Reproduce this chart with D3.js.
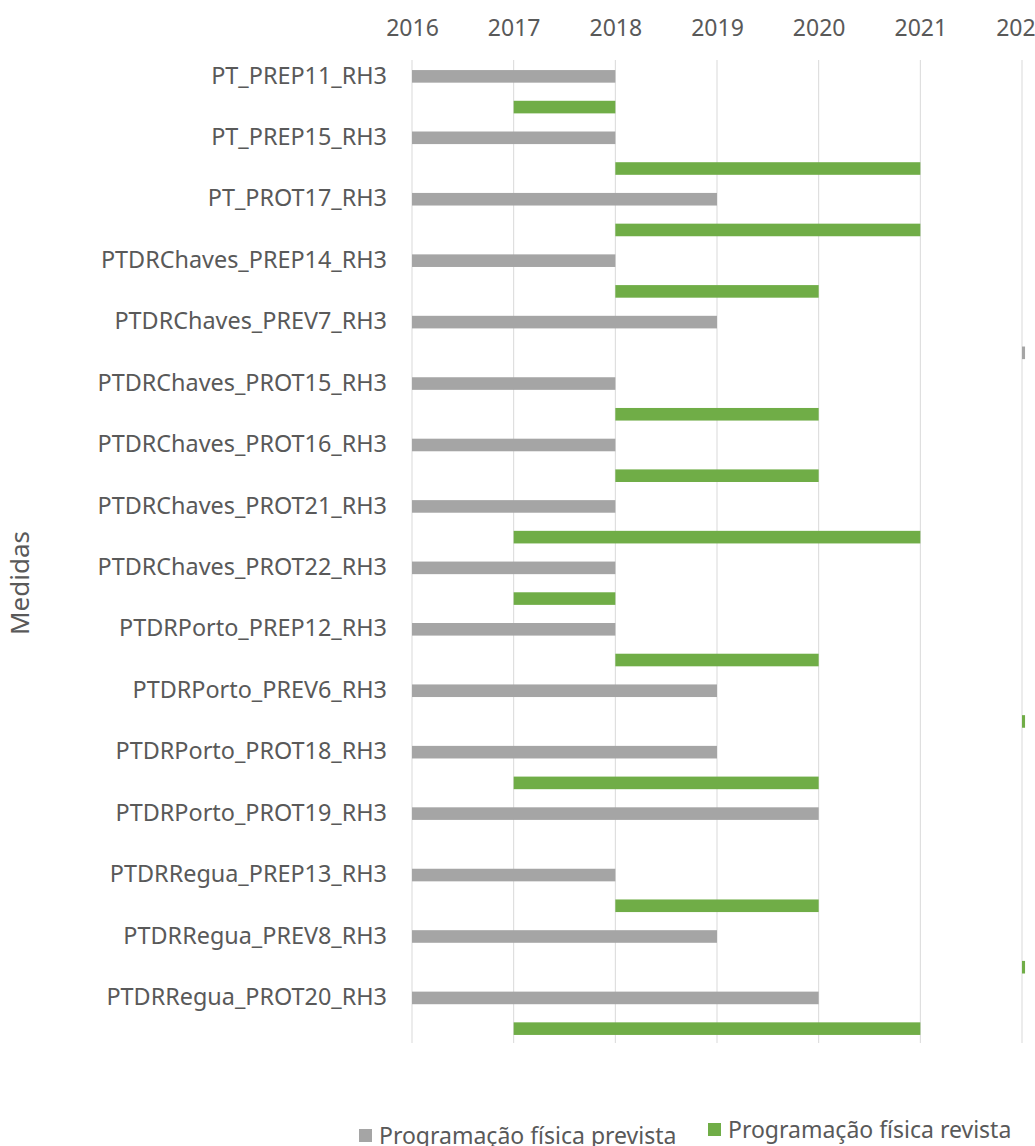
<!DOCTYPE html>
<html>
<head>
<meta charset="utf-8">
<script src="https://cdn.jsdelivr.net/npm/d3@7"></script>
<style>
  body { margin: 0; background: #fff; }
  svg { display: block; font-family: "Noto Sans", "Open Sans", sans-serif; }
</style>
</head>
<body>
<svg id="chart" width="1035" height="1146"></svg>
<script>
// categories (top to bottom)
const categorias = [
  "PT_PREP11_RH3", "PT_PREP15_RH3", "PT_PROT17_RH3",
  "PTDRChaves_PREP14_RH3", "PTDRChaves_PREV7_RH3", "PTDRChaves_PROT15_RH3",
  "PTDRChaves_PROT16_RH3", "PTDRChaves_PROT21_RH3", "PTDRChaves_PROT22_RH3",
  "PTDRPorto_PREP12_RH3", "PTDRPorto_PREV6_RH3", "PTDRPorto_PROT18_RH3",
  "PTDRPorto_PROT19_RH3", "PTDRRegua_PREP13_RH3", "PTDRRegua_PREV8_RH3",
  "PTDRRegua_PROT20_RH3"
];

// Programação física prevista (start / end year)
const previstaInicio = [2016, 2016, 2016, 2016, 2016, 2016, 2016, 2016, 2016, 2016, 2016, 2016, 2016, 2016, 2016, 2016];
const previstaFim    = [2018, 2018, 2019, 2018, 2019, 2018, 2018, 2018, 2018, 2018, 2019, 2019, 2020, 2018, 2019, 2020];

// Programação física revista (start / end year), null = no bar
const revistaInicio = [2017, 2018, 2018, 2018, 2022, 2018, 2018, 2017, 2017, 2018, 2022, 2017, null, 2018, 2022, 2017];
const revistaFim    = [2018, 2021, 2021, 2020, 2022.03, 2020, 2020, 2021, 2018, 2020, 2022.03, 2020, null, 2020, 2022.03, 2021];

const anos = [2016, 2017, 2018, 2019, 2020, 2021, 2022];

const series = ["Programação física prevista", "Programação física revista"];
const cores = ["#a5a5a5", "#70ad47"];
// in the source the revised mark of this row is drawn grey
const marcaCinzenta = new Set(["PTDRChaves_PREV7_RH3"]);

const svg = d3.select("#chart");
const margin = { top: 60, left: 412, right: 13, bottom: 103 };
const W = +svg.attr("width"), H = +svg.attr("height");
const txt = "#595959";

const x = d3.scaleLinear()
  .domain([d3.min(anos), d3.max(anos)])
  .range([margin.left, W - margin.right]);

const y = d3.scaleBand()
  .domain(categorias)
  .range([margin.top, H - margin.bottom])
  .paddingInner(0).paddingOuter(0);

const sub = d3.scaleBand()
  .domain([0, 1])
  .range([0, y.bandwidth()])
  .paddingInner(0.59).paddingOuter(0.295);

// gridlines
svg.append("g")
  .selectAll("line")
  .data(anos)
  .join("line")
    .attr("x1", d => x(d)).attr("x2", d => x(d))
    .attr("y1", margin.top).attr("y2", H - margin.bottom)
    .attr("stroke", "#d9d9d9").attr("stroke-width", 1);

// top axis
const ax = svg.append("g")
  .attr("transform", `translate(0,${margin.top - 24})`)
  .call(d3.axisTop(x).tickValues(anos).tickFormat(d3.format("d")).tickSize(0).tickPadding(0));
ax.select(".domain").remove();
ax.selectAll("text")
  .attr("fill", txt)
  .style("font-size", "23px")
  .style("font-family", "'Noto Sans', sans-serif");

const rows = categorias.map((c, i) => ({
  c, i,
  p: [previstaInicio[i], previstaFim[i]],
  r: revistaInicio[i] == null ? null : [revistaInicio[i], revistaFim[i]]
}));

// prevista bars
svg.append("g")
  .selectAll("rect")
  .data(rows)
  .join("rect")
    .attr("x", d => x(d.p[0]))
    .attr("width", d => x(d.p[1]) - x(d.p[0]))
    .attr("y", d => y(d.c) + sub(0) + 1)
    .attr("height", sub.bandwidth())
    .attr("fill", cores[0]);

// revista bars
svg.append("g")
  .selectAll("rect")
  .data(rows.filter(d => d.r))
  .join("rect")
    .attr("x", d => x(d.r[0]))
    .attr("width", d => x(d.r[1]) - x(d.r[0]))
    .attr("y", d => y(d.c) + sub(1) + 1)
    .attr("height", sub.bandwidth())
    .attr("fill", d => marcaCinzenta.has(d.c) ? cores[0] : cores[1]);

// category labels
svg.append("g")
  .selectAll("text")
  .data(categorias)
  .join("text")
    .attr("x", margin.left - 25)
    .attr("y", d => y(d) + sub(0) + sub.bandwidth() / 2)
    .attr("dy", "0.35em")
    .attr("text-anchor", "end")
    .attr("fill", txt)
    .style("font-size", "23.4px")
    .text(d => d);

// axis title
svg.append("text")
  .attr("transform", `translate(29,583) rotate(-90)`)
  .attr("text-anchor", "middle")
  .attr("fill", txt)
  .style("font-size", "26px")
  .text("Medidas");

// legend
const legPos = [[359, 1136], [708, 1130]];
const leg = svg.append("g")
  .selectAll("g")
  .data(series)
  .join("g")
    .attr("transform", (d, i) => `translate(${legPos[i][0]},${legPos[i][1]})`);
leg.append("rect")
  .attr("x", 0).attr("y", -7)
  .attr("width", 13).attr("height", 13)
  .attr("fill", (d, i) => cores[i]);
leg.append("text")
  .attr("x", 20)
  .attr("dy", "0.35em")
  .attr("fill", txt)
  .style("font-size", "23px")
  .text(d => d);
</script>
</body>
</html>
